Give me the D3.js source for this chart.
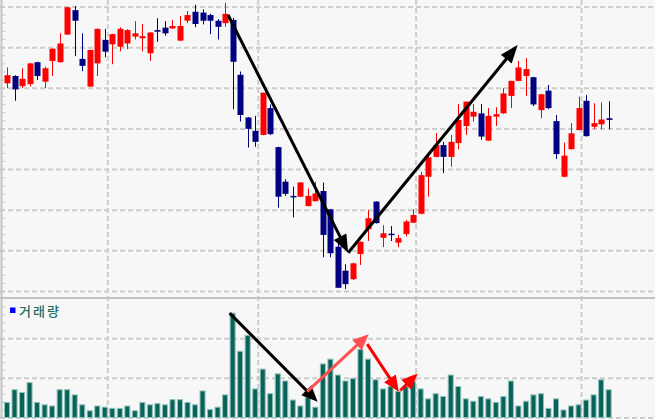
<!DOCTYPE html>
<html><head><meta charset="utf-8">
<script src="https://cdn.jsdelivr.net/npm/d3@7"></script>
<style>html,body{margin:0;padding:0;background:#f7f7f7;} svg{display:block;}</style>
</head><body><svg id="c" width="655" height="419"></svg>
<script>
// ---- data ----
const open  = [611,629,604,609,663,615,666,663,731,791,671,603,660,718,707,701,709,726,722,685,742,748,746,716,765,787,785,779,765,759,767,632,527,494,484,550,454,369,334,332,309,321,346,301,209,150,129,191,252,320,231,241,219,240,268,290,381,430,459,430,464,506,529,537,470,529,537,580,617,629,626,545,593,518,381,449,496,568,504,510,525];
const high  = [650,631,648,661,664,652,697,734,799,801,734,694,746,745,733,749,744,764,757,737,771,764,767,777,789,804,793,782,769,809,772,640,528,531,588,559,455,375,357,368,352,369,367,302,221,166,170,222,299,321,262,260,238,275,301,393,435,489,467,484,560,566,560,560,550,552,599,617,666,673,627,585,607,533,465,513,578,582,562,564,567];
const low   = [599,568,599,603,619,599,629,662,730,678,641,602,629,675,658,690,695,719,690,666,713,728,745,715,759,749,756,732,719,750,547,517,453,455,483,484,305,334,281,331,308,320,183,183,107,105,127,164,223,266,208,223,208,234,267,289,332,429,390,406,449,484,517,472,469,506,536,550,616,580,555,525,547,425,380,448,495,480,498,498,498];
const close = [631,596,622,660,629,648,696,709,798,765,654,693,745,689,732,745,742,734,727,736,738,734,752,752,779,757,765,765,750,782,664,533,499,467,588,486,332,339,332,367,334,340,238,193,108,117,168,221,279,267,242,240,230,271,287,385,429,459,430,467,521,566,541,480,531,535,586,617,650,646,559,584,550,437,433,488,550,481,513,522,521];
const volume= [38,70,63,88,38,32,29,70,70,57,32,17,29,26,23,23,29,17,38,32,35,32,45,45,38,32,67,20,26,57,263,167,207,72,122,60,110,92,44,29,51,26,135,147,107,92,98,172,147,95,72,78,66,78,90,72,47,60,53,107,78,47,41,53,47,38,53,92,29,41,57,60,23,47,19,29,32,44,57,95,70];
const monthStarts = [14,34,55,77];          // first trading day of each month (vertical grid)
const priceTicks  = [100,200,300,400,500,600,700,800];
const volumeTicks = [0,100,200];
const legendLabel = "거래량";
// annotation arrows in data coordinates: [fromIndex, fromValue, toIndex, toValue]
const priceArrows  = [[29.4,779,45.37,194],[45.37,194,67.9,705]];
const volumeArrows = [
  {a:[29.6,263,41.3,40], c:"#000000"},
  {a:[39.9,65,48.1,210], c:"#ff5050"},
  {a:[47.9,185,52.1,65], c:"#ff0000"},
  {a:[52.3,68,54.6,111], c:"#ff0000"}
];

// ---- drawing ----
const W=655,H=419;
const svg=d3.select('#c');
svg.append('rect').attr('width',W).attr('height',H).attr('fill','#f7f7f7');

const n=open.length;
const x=d3.scaleBand().domain(d3.range(n)).range([3.24,612.4]).paddingInner(0.2).paddingOuter(0.1);
const step=x.step(), bw=x.bandwidth();
const xc=t=>x(0)+bw/2+t*step;
const yP=d3.scaleLinear().domain([100,800]).range([291,6.5]);
const yV=d3.scaleLinear().domain([0,300]).range([417.5,298.5]);

const gridColor="#cdcdcd";
// horizontal grid (price)
const gP=svg.append('g').call(d3.axisLeft(yP).tickValues(priceTicks).tickSize(-W).tickFormat(''));
gP.select('.domain').remove();
gP.selectAll('line').attr('stroke',gridColor).attr('stroke-width',2).attr('stroke-dasharray','5,3');
// horizontal grid (volume)
const gV=svg.append('g').call(d3.axisLeft(yV).tickValues(volumeTicks).tickSize(-W).tickFormat(''));
gV.select('.domain').remove();
gV.selectAll('line').attr('stroke',gridColor).attr('stroke-width',2).attr('stroke-dasharray','5,3');
// vertical grid
svg.append('g').selectAll('line').data(monthStarts).join('line')
  .attr('x1',d=>x(d)-step*0.2).attr('x2',d=>x(d)-step*0.2)
  .attr('y1',0).attr('y2',H)
  .attr('stroke',gridColor).attr('stroke-width',2).attr('stroke-dasharray','5,3');

// panel separator
svg.append('line').attr('x1',0).attr('x2',W).attr('y1',298).attr('y2',298)
  .attr('stroke','#c2c2c2').attr('stroke-width',2);
// left axis with minor ticks
const minorP=d3.range(100,820,20), minorV=d3.range(0,300,20);
const aP=svg.append('g').attr('transform','translate(2,0)').call(d3.axisRight(yP).tickValues(minorP).tickSize(3).tickFormat(''));
const aV=svg.append('g').attr('transform','translate(2,0)').call(d3.axisRight(yV).tickValues(minorV).tickSize(3).tickFormat(''));
[aP,aV].forEach(a=>{a.select('.domain').remove();a.selectAll('line').attr('stroke','#c6c6c6');});
svg.append('line').attr('x1',1.5).attr('x2',1.5).attr('y1',0).attr('y2',H).attr('stroke','#c4c4c4').attr('stroke-width',2);

// volume bars
svg.append('g').selectAll('rect').data(volume).join('rect')
  .attr('x',(d,i)=>x(i)+0.5).attr('width',bw-1)
  .attr('y',d=>yV(d)).attr('height',d=>yV(0)-yV(d))
  .attr('fill','#0b625a').attr('stroke','#8cc3ba').attr('stroke-width',1);

// candles
const idx=d3.range(n);
const col=i=>close[i]>=open[i]?'#ff0000':'#000080';
const cg=svg.append('g');
cg.selectAll('line').data(idx).join('line')
  .attr('x1',i=>Math.round(xc(i))+0.5).attr('x2',i=>Math.round(xc(i))+0.5)
  .attr('y1',i=>yP(high[i])).attr('y2',i=>yP(low[i]))
  .attr('stroke',col).attr('stroke-width',1);
cg.selectAll('rect').data(idx).join('rect')
  .attr('x',i=>Math.round(xc(i))+0.5-3).attr('width',6)
  .attr('y',i=>yP(Math.max(open[i],close[i])))
  .attr('height',i=>Math.max(1.5,Math.abs(yP(open[i])-yP(close[i]))))
  .attr('fill',col);

// legend
svg.append('rect').attr('x',10).attr('y',307.5).attr('width',5.5).attr('height',5.5).attr('fill','#0000ff');
svg.append('text').attr('x',19).attr('y',316).text(legendLabel)
  .attr('font-family','"Noto Sans CJK KR","Noto Sans",sans-serif').attr('font-size',13)
  .attr('font-weight',500)
  .attr('letter-spacing',2).attr('fill','#1d6c66');

// arrows
function arrow(x1,y1,x2,y2,color,len,wid,lw){
  const dx=x2-x1,dy=y2-y1,L=Math.hypot(dx,dy),ux=dx/L,uy=dy/L;
  const bx=x2-ux*len,by=y2-uy*len;
  svg.append('line').attr('x1',x1).attr('y1',y1).attr('x2',bx+ux*3).attr('y2',by+uy*3)
    .attr('stroke',color).attr('stroke-width',lw).attr('stroke-linecap','butt');
  svg.append('polygon').attr('points',[[x2,y2],[bx-uy*wid/2,by+ux*wid/2],[bx+uy*wid/2,by-ux*wid/2]].map(p=>p.join(',')).join(' '))
    .attr('fill',color);
}
priceArrows.forEach(a=>arrow(xc(a[0]),yP(a[1]),xc(a[2]),yP(a[3]),'#000000',18,14,3));
volumeArrows.forEach(v=>arrow(xc(v.a[0]),yV(v.a[1]),xc(v.a[2]),yV(v.a[3]),v.c,16,14,3));
</script></body></html>
